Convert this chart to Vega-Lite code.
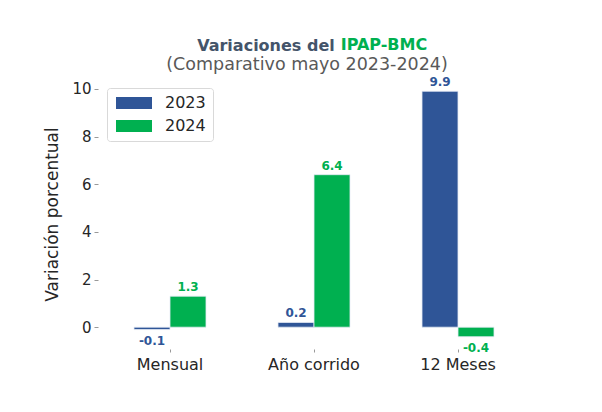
{
  "$schema": "https://vega.github.io/schema/vega-lite/v6.json",
  "background": "white",
  "padding": {"left": 43, "top": 36, "right": 60, "bottom": 10},
  "config": {"font": "DejaVu Sans", "view": {"stroke": null}, "concat": {"spacing": 0}},
  "title": {"text": "Variaciones del", "color": "#44546A", "fontSize": 16, "fontWeight": "bold", "anchor": "middle", "dx": -21, "offset": -17},
  "vconcat": [
    {
      "title": {"text": "IPAP-BMC", "color": "#00B050", "fontSize": 16, "fontWeight": "bold", "anchor": "middle", "dx": 97, "offset": 3},
      "vconcat": [
        {
          "width": 432,
          "height": 270,
          "title": {"text": "(Comparativo mayo 2023-2024)", "color": "#595959", "fontSize": 17.5, "fontWeight": "normal", "anchor": "middle", "offset": 3, "dx": -7},
          "data": {"values": [
            {"categoria": "Mensual", "anio": "2023", "valor": -0.1},
            {"categoria": "Mensual", "anio": "2024", "valor": 1.3},
            {"categoria": "Año corrido", "anio": "2023", "valor": 0.2},
            {"categoria": "Año corrido", "anio": "2024", "valor": 6.4},
            {"categoria": "12 Meses", "anio": "2023", "valor": 9.9},
            {"categoria": "12 Meses", "anio": "2024", "valor": -0.4}
          ]},
          "encoding": {
            "x": {"field": "categoria", "type": "nominal", "sort": ["Mensual", "Año corrido", "12 Meses"],
              "scale": {"paddingInner": 0.5, "paddingOuter": 0.25},
              "axis": {"title": null, "labelAngle": 0, "domain": false, "tickSize": 3, "tickColor": "#999999", "labelFontSize": 16, "labelColor": "#262626", "labelPadding": 4}},
            "xOffset": {"field": "anio", "type": "nominal", "sort": ["2023", "2024"]},
            "y": {"field": "valor", "type": "quantitative",
              "scale": {"domain": [-0.915, 10.415], "nice": false, "zero": false},
              "axis": {"title": "Variación porcentual", "titleFontSize": 17, "titleFontWeight": "normal", "titleColor": "#262626", "values": [0, 2, 4, 6, 8, 10], "grid": false, "domain": false, "tickSize": 4, "tickColor": "#999999", "labelFontSize": 15, "labelColor": "#262626", "labelPadding": 3, "titlePadding": 10}},
            "color": {"field": "anio", "type": "nominal",
              "scale": {"domain": ["2023", "2024"], "range": ["#2F5597", "#00B050"]},
              "legend": {"title": null, "orient": "top-left", "offset": 9, "symbolType": "M-3,-1L3,-1L3,1L-3,1Z", "symbolSize": 144, "symbolOffset": 12, "symbolStrokeWidth": 0, "symbolOpacity": 1, "labelFontSize": 16, "labelColor": "#262626", "labelOffset": 23, "rowPadding": 7, "padding": 7, "strokeColor": "#d9d9d9", "cornerRadius": 3, "fillColor": "white"}}
          },
          "layer": [
            {"mark": {"type": "bar", "stroke": "#e6ebf5", "strokeWidth": 0.8}, "encoding": {"y2": {"datum": 0}}},
            {"transform": [{"filter": "datum.valor >= 0"}],
             "mark": {"type": "text", "fontWeight": "bold", "fontSize": 12, "baseline": "alphabetic", "dy": -5},
             "encoding": {"text": {"field": "valor", "type": "nominal"}}},
            {"transform": [{"filter": "datum.valor < 0"}],
             "mark": {"type": "text", "fontWeight": "bold", "fontSize": 12, "baseline": "top", "dy": 6},
             "encoding": {"text": {"field": "valor", "type": "nominal"}}}
          ]
        }
      ]
    }
  ]
}
